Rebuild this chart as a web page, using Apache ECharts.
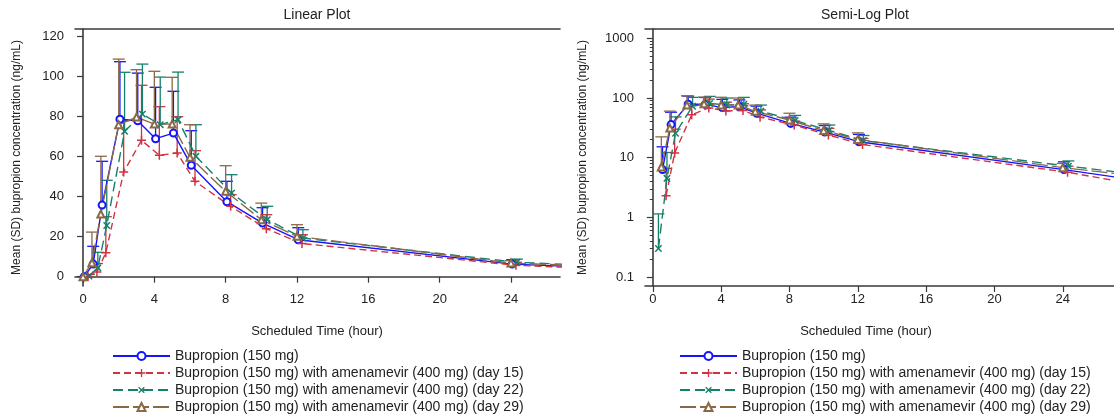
<!DOCTYPE html>
<html>
<head>
<meta charset="utf-8">
<script src="https://cdn.jsdelivr.net/npm/echarts@6/dist/echarts.min.js"></script>
<style>
  html, body { margin: 0; padding: 0; background: #fff; }
  #chart { width: 1114px; height: 417px; }
</style>
</head>
<body>
<div id="chart"></div>
<script>
// ---------- data ----------
const nominalTimes = [0, 0.5, 1, 2, 3, 4, 5, 6, 8, 10, 12, 24, 36];

const seriesNames = [
  'Bupropion (150 mg)',
  'Bupropion (150 mg) with amenamevir (400 mg) (day 15)',
  'Bupropion (150 mg) with amenamevir (400 mg) (day 22)',
  'Bupropion (150 mg) with amenamevir (400 mg) (day 29)'
];

// horizontal dodge of each group in the reference (hours)
const dodge = [0.07, 0.28, 0.33, 0.0];

const meanAlone = [0, 6.3, 35.8, 78.7, 78.0, 69.0, 71.8, 55.7, 37.5, 26.8, 18.5, 6.3, 2.0];
const upperAlone = [0, 15.2, 57.7, 107.5, 101.8, 94.7, 92.7, 73.0, 47.7, 34.5, 24.5, 8.5, null];

const meanDay15 = [0, 2.3, 12.0, 52.3, 68.2, 60.7, 61.8, 47.7, 35.2, 24.0, 16.6, 5.7, 1.4];
const upperDay15 = [0, 6.6, 30.0, 78.0, 95.7, 85.0, 80.0, 63.0, 41.0, 31.0, 21.0, 7.2, null];

const meanDay22 = [0.3, 4.5, 25.6, 72.7, 81.3, 76.0, 78.5, 60.2, 41.8, 28.5, 19.3, 7.2, 2.8];
const upperDay22 = [1.14, 12.2, 48.2, 102.2, 106.3, 99.8, 102.3, 76.0, 51.0, 35.2, 23.5, 8.8, null];

const meanDay29 = [0, 7.0, 31.3, 76.0, 79.8, 76.3, 76.3, 59.7, 42.7, 28.5, 20.2, 6.8, 2.8];
const upperDay29 = [0, 22.3, 60.2, 108.8, 103.5, 102.7, 99.7, 76.0, 55.5, 36.8, 26.0, 8.0, null];

const xTicks = [0, 4, 8, 12, 16, 20, 24];
const linTicks = [0, 20, 40, 60, 80, 100, 120];
const logTicks = [0.1, 1, 10, 100, 1000];
const logMinorTicks = [0.2,0.3,0.4,0.5,0.6,0.7,0.8,0.9, 2,3,4,5,6,7,8,9, 20,30,40,50,60,70,80,90, 200,300,400,500,600,700,800,900];

// ---------- styling ----------
const colors = ['#1414ff', '#d2323f', '#17806b', '#8a6a46'];
const dashes = ['solid', [7, 4], [10, 5], [16, 4]];
const plusPath = 'path://M5,0H7V5H12V7H7V12H5V7H0V5H5Z';
const symbols = ['emptyCircle', plusPath, plusPath, 'emptyTriangle'];
const symbolSizes = [7, 9, 9, 7];
const symbolRotates = [0, 0, 45, 0];
const means = [meanAlone, meanDay15, meanDay22, meanDay29];
const uppers = [upperAlone, upperDay15, upperDay22, upperDay29];

const FONT = "'Liberation Sans', Arial, sans-serif";
const axisColor = '#3a3a3a';
const labelColor = '#222';

function errRender(color) {
  return function (params, api) {
    const x = api.value(0), m = api.value(1), u = api.value(2);
    const p0 = api.coord([x, m]);
    const p1 = api.coord([x, u]);
    const hw = 6;
    return {
      type: 'group',
      children: [
        { type: 'line', shape: { x1: p0[0], y1: p0[1], x2: p1[0], y2: p1[1] }, style: { stroke: color, lineWidth: 1.3 } },
        { type: 'line', shape: { x1: p1[0] - hw, y1: p1[1], x2: p1[0] + hw, y2: p1[1] }, style: { stroke: color, lineWidth: 1.3 } }
      ]
    };
  };
}

const series = [];
[0, 1].forEach(function (g) {
  const isLog = g === 1;
  means.forEach(function (mArr, i) {
    const bars = [];
    mArr.forEach(function (m, k) {
      const x = nominalTimes[k] + dodge[i];
      const u = uppers[i][k];
      if (u != null && u > m && m > 0) bars.push([x, m, u]);
    });
    series.push({
      type: 'custom',
      name: 'sd' + g + i,
      xAxisIndex: g * 2,
      yAxisIndex: isLog ? 1 : 0,
      renderItem: errRender(colors[i]),
      encode: { x: 0, y: [1, 2] },
      data: bars,
      clip: true,
      z: 2,
      silent: true
    });
  });
  means.forEach(function (mArr, i) {
    const pts = mArr.map(function (m, k) {
      const x = nominalTimes[k] + dodge[i];
      return (isLog && !(m > 0)) ? [x, '-'] : [x, m];
    });
    series.push({
      type: 'line',
      name: seriesNames[i],
      xAxisIndex: g * 2,
      yAxisIndex: isLog ? 1 : 0,
      data: pts,
      symbol: symbols[i],
      symbolSize: symbolSizes[i],
      symbolRotate: symbolRotates[i],
      showAllSymbol: true,
      connectNulls: false,
      clip: true,
      z: 3,
      lineStyle: { color: colors[i], width: 1.4, type: dashes[i] },
      itemStyle: { color: colors[i], borderWidth: 1.4 }
    });
  });
});

function xAxisDef(gridIndex, min, max, bottom) {
  return {
    type: 'value', gridIndex: gridIndex, min: min, max: max,
    position: bottom ? 'bottom' : 'top',
    splitLine: { show: false },
    axisLine: { show: true, lineStyle: { color: axisColor, width: 1.6 } },
    axisTick: { show: bottom, customValues: xTicks, length: 6, lineStyle: { color: axisColor, width: 1.2 } },
    axisLabel: { show: bottom, customValues: xTicks, color: labelColor, fontSize: 13, fontFamily: FONT, margin: 7 }
  };
}

function legendDef(left) {
  return {
    left: left, top: 349, height: 80, padding: 0, orient: 'vertical',
    itemWidth: 57, itemHeight: 10, itemGap: 3,
    textStyle: { fontSize: 14, color: labelColor, fontFamily: FONT },
    data: seriesNames, selectedMode: false
  };
}

const option = {
  animation: false,
  backgroundColor: '#fff',
  grid: [
    { left: 75, top: 29, width: 485, height: 257 },
    { left: 645, top: 29, width: 482, height: 257 }
  ],
  xAxis: [
    xAxisDef(0, -0.45, 26.75, true),
    xAxisDef(0, -0.45, 26.75, false),
    xAxisDef(1, -0.456, 27.0, true),
    xAxisDef(1, -0.456, 27.0, false)
  ],
  yAxis: [
    {
      type: 'value', gridIndex: 0, min: -4.65, max: 123.85,
      splitLine: { show: false },
      axisLine: { show: true, lineStyle: { color: axisColor, width: 1.6 } },
      axisTick: { show: true, customValues: linTicks, length: 6, lineStyle: { color: axisColor, width: 1.2 } },
      axisLabel: { customValues: linTicks, color: labelColor, fontSize: 13, fontFamily: FONT, margin: 11 },
      name: 'Mean (SD) bupropion concentration (ng/mL)',
      nameLocation: 'middle', nameRotate: 90, nameGap: 52,
      nameTextStyle: { color: labelColor, fontSize: 12, fontFamily: FONT }
    },
    {
      type: 'log', gridIndex: 1, min: 0.0706, max: 1432, logBase: 10,
      splitLine: { show: false }, minorTick: { show: false },
      axisLine: { show: true, lineStyle: { color: axisColor, width: 1.6 } },
      axisTick: { show: true, customValues: logTicks, length: 6, lineStyle: { color: axisColor, width: 1.2 } },
      axisLabel: { customValues: logTicks, color: labelColor, fontSize: 13, fontFamily: FONT, margin: 11,
                   formatter: function (v) { return String(+v.toPrecision(6)); } },
      name: 'Mean (SD) bupropion concentration (ng/mL)',
      nameLocation: 'middle', nameRotate: 90, nameGap: 56,
      nameTextStyle: { color: labelColor, fontSize: 12, fontFamily: FONT }
    },
    {
      type: 'log', gridIndex: 1, min: 0.0706, max: 1432, logBase: 10, position: 'left', offset: 0,
      splitLine: { show: false }, minorTick: { show: false },
      axisLine: { show: false },
      axisTick: { show: true, customValues: logMinorTicks, length: 3, lineStyle: { color: axisColor, width: 1 } },
      axisLabel: { show: false, customValues: logMinorTicks }
    }
  ],
  legend: [legendDef(112), legendDef(679)],
  graphic: [
    { type: 'text', x: 317, y: 15, style: { text: 'Linear Plot', font: '14px ' + FONT, fill: labelColor, textAlign: 'center', textVerticalAlign: 'middle' } },
    { type: 'text', x: 865, y: 15, style: { text: 'Semi-Log Plot', font: '14px ' + FONT, fill: labelColor, textAlign: 'center', textVerticalAlign: 'middle' } },
    { type: 'text', x: 317, y: 331, style: { text: 'Scheduled Time (hour)', font: '13px ' + FONT, fill: labelColor, textAlign: 'center', textVerticalAlign: 'middle' } },
    { type: 'text', x: 866, y: 331, style: { text: 'Scheduled Time (hour)', font: '13px ' + FONT, fill: labelColor, textAlign: 'center', textVerticalAlign: 'middle' } }
  ],
  series: series
};

const chart = echarts.init(document.getElementById('chart'), null, { renderer: 'canvas' });
chart.setOption(option);
</script>
</body>
</html>
